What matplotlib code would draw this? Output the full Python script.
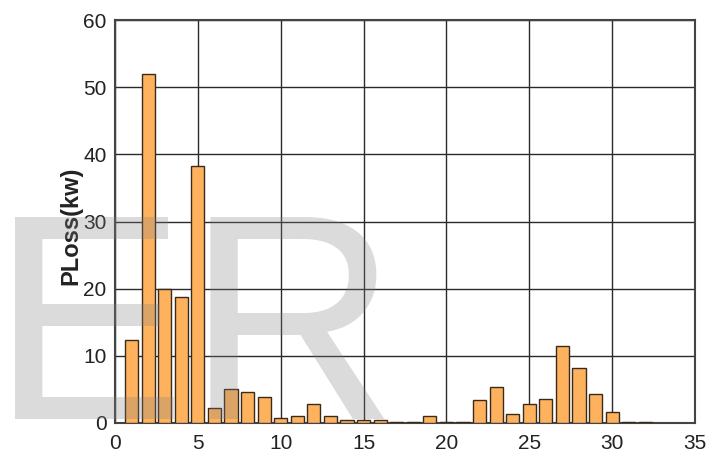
import matplotlib
matplotlib.use("Agg")
import matplotlib.pyplot as plt
import numpy as np

# Data
buses = list(range(1, 33))
ploss = [12.4, 52.0, 19.9, 18.8, 38.3, 2.2, 5.1, 4.6, 3.9, 0.7,
         1.0, 2.9, 1.0, 0.4, 0.4, 0.4, 0.2, 0.2, 1.0, 0.2,
         0.2, 3.4, 5.3, 1.4, 2.9, 3.6, 11.5, 8.2, 4.3, 1.7,
         0.2, 0.2]
xticks = [0, 5, 10, 15, 20, 25, 30, 35]
yticks = [0, 10, 20, 30, 40, 50, 60]
ylabel = "PLoss(kw)"
watermark = "ER"

FONT = ['Liberation Sans', 'DejaVu Sans']

fig = plt.figure(figsize=(7.16, 4.63), dpi=100)
ax = fig.add_axes([115/716, 1-423/463, 580/716, 403/463])

ax.bar(buses, ploss, width=0.8, color='#FFB25E', edgecolor='#3a2a1a',
       linewidth=1.0, zorder=3)

ax.set_xlim(0, 35)
ax.set_ylim(0, 60)
ax.set_xticks(xticks)
ax.set_yticks(yticks)
ax.grid(True, color='#2a2a2a', linewidth=1.0, zorder=1)
ax.set_axisbelow(True)
ax.tick_params(length=0, pad=6)
for lab in ax.get_xticklabels() + ax.get_yticklabels():
    lab.set_family(FONT)
    lab.set_fontsize(15)
    lab.set_color('#222222')
ax.tick_params(axis='x', pad=8)
for s in ax.spines.values():
    s.set_color('#444444')
    s.set_linewidth(1.5)

ax.set_ylabel(ylabel, family=FONT, fontsize=17, fontweight='bold',
              color='#222222', va='center')
ax.yaxis.set_label_coords(-0.076, 0.49)

fig.text(-9/716, 1-419/463, watermark, fontsize=211, family=['Liberation Sans', 'DejaVu Sans'],
         color='#808080', alpha=0.28, ha='left', va='baseline', zorder=10)

fig.savefig("out.png", dpi=100)
